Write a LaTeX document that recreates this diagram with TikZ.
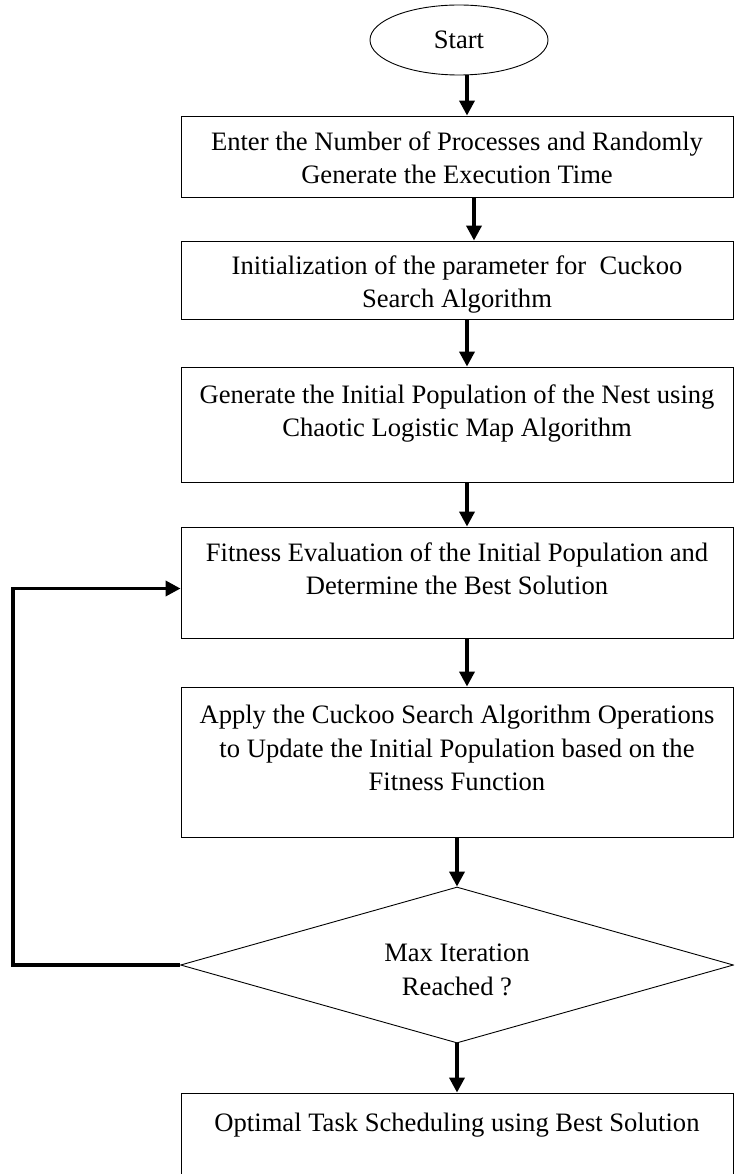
\documentclass[tikz,border=0pt]{standalone}
\usepackage{fontspec}
\setmainfont{Liberation Serif}
\usetikzlibrary{shapes.geometric,arrows.meta,positioning}

\begin{document}
\begin{tikzpicture}[
    x=1pt, y=-1pt,
    font=\fontsize{26.6pt}{33.5pt}\selectfont,
    arrowstyle/.style={draw, line width=3.6pt, -{Triangle[length=15pt,width=15pt]}},
    terminal/.style={ellipse, draw, line width=0.9pt, minimum width=178pt,
        minimum height=70pt, inner sep=0pt},
    process/.style={rectangle, draw, line width=0.9pt, minimum width=552pt,
        inner sep=0pt},
    decision/.style={diamond, draw, line width=0.9pt, minimum width=553pt,
        minimum height=156pt, shape aspect=3.5, inner sep=0pt},
    steptext/.style={align=center, inner sep=0pt, anchor=base}
]
\useasboundingbox (0,0) rectangle (734,1174);
\clip (0,0) rectangle (734,1174);

\node (Start) [terminal] at (459,40) {Start};

% base = baseline of the last line
\node (Step01) [process, minimum height=81pt] at (457,156.5) {};
\node (Text01) [steptext] at ([yshift=-68pt]Step01.north)
  {Enter the Number of Processes and Randomly\\Generate the Execution Time};

\node (Step02) [process, minimum height=78pt] at (457,280) {};
\node (Text02) [steptext] at ([yshift=-67pt]Step02.north)
  {Initialization of the parameter for\ \ Cuckoo\\Search Algorithm};

\node (Step03) [process, minimum height=115pt] at (457,424.5) {};
\node (Text03) [steptext] at ([yshift=-70pt]Step03.north)
  {Generate the Initial Population of the Nest using\\Chaotic Logistic Map Algorithm};

\node (Step04) [process, minimum height=111pt] at (457,582.5) {};
\node (Text04) [steptext] at ([yshift=-68pt]Step04.north)
  {Fitness Evaluation of the Initial Population and\\Determine the Best Solution};

\node (Step05) [process, minimum height=150pt] at (457,762) {};
\node (Text05) [steptext] at ([yshift=-104pt]Step05.north)
  {Apply the Cuckoo Search Algorithm Operations\\to Update the Initial Population based on the\\Fitness Function};

\node (Check) [decision] at (457,965) {};
\node (TextCheck) [steptext] at ([yshift=-30pt]Check.center) {Max Iteration\\Reached ?};

\node (Step06) [process, minimum height=110pt] at (457,1148) {};
\node (Text06) [steptext] at ([yshift=-39pt]Step06.north)
  {Optimal Task Scheduling using Best Solution};

% main flow
\draw[arrowstyle] ([xshift=8pt]Start.south) -- ([xshift=10pt]Step01.north);
\draw[arrowstyle] ([xshift=17pt]Step01.south) -- ([xshift=17pt]Step02.north);
\draw[arrowstyle] ([xshift=10pt]Step02.south) -- ([xshift=10pt]Step03.north);
\draw[arrowstyle] ([xshift=10pt]Step03.south) -- ([xshift=10pt]Step04.north);
\draw[arrowstyle] ([xshift=10pt]Step04.south) -- ([xshift=10pt]Step05.north);
\draw[arrowstyle] (Step05.south) -- (Check.north);
\draw[arrowstyle] (Check.south) -- (Step06.north);

% loop back
\draw[arrowstyle] (Check.west) -- ++(-167,0) |- ([yshift=-6pt]Step04.west);
\end{tikzpicture}
\end{document}
